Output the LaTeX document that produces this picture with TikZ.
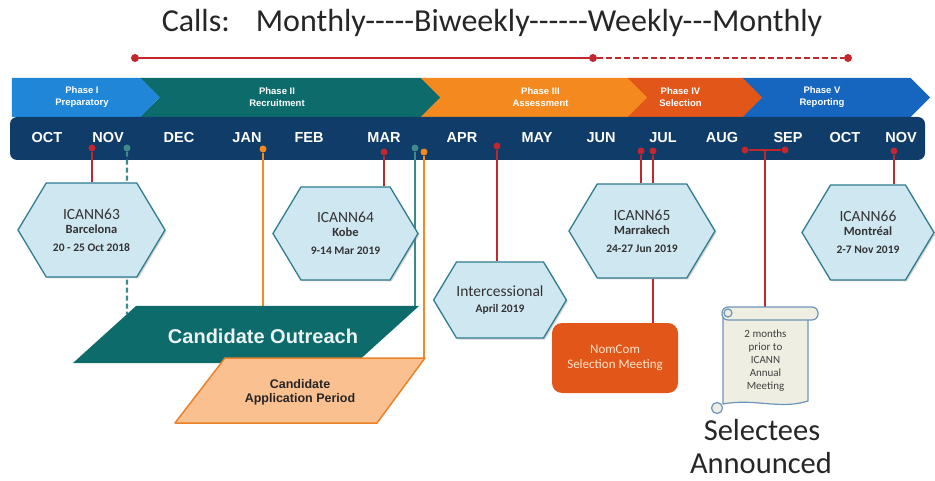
\documentclass[tikz,border=0pt]{standalone}
\usepackage{fontspec}
\usetikzlibrary{shapes.symbols,shadows}
\newfontfamily\calibri{Carlito}
\newfontfamily\arial{Liberation Sans}
\definecolor{navy}{HTML}{0F3C68}
\definecolor{phaseone}{HTML}{1F86D8}
\definecolor{phasefive}{HTML}{1666BF}
\definecolor{nomteal}{HTML}{0E6B6B}
\definecolor{nomorange}{HTML}{F48A1F}
\definecolor{nomburnt}{HTML}{E2561A}
\definecolor{nomred}{HTML}{C1272D}
\definecolor{hexfill}{HTML}{CFE7F1}
\definecolor{hexline}{HTML}{2F7D90}
\definecolor{appfill}{HTML}{FAC08F}
\definecolor{appline}{HTML}{E9822A}
\definecolor{scrollfill}{HTML}{EEEEE2}
\definecolor{scrollline}{HTML}{6C95BA}
\newcommand{\mtg}[3]{{\fontsize{15.5}{17}\selectfont #1}\\[-1pt]{\bfseries #2}\\[3pt]{\bfseries\fontsize{11.5}{13}\selectfont #3}}
\pgfdeclarelayer{bar}
\pgfdeclarelayer{wires}
\pgfsetlayers{bar,wires,main}

\begin{document}
\begin{tikzpicture}[x=1pt,y=-1pt,
    hex/.style={signal, signal to=east and west, signal pointer angle=118,
      draw=hexline, line width=1.3pt, fill=hexfill, inner sep=0pt,
      drop shadow={shadow xshift=1.5pt, shadow yshift=-1.5pt, opacity=.35},
      align=center, text=black!80, font=\calibri\fontsize{12.5}{15}\selectfont},
    phase/.style={signal, signal pointer angle=90, minimum height=39pt, inner sep=0pt},
    phasetxt/.style={text=white, align=center, font=\arial\bfseries\fontsize{9.5}{12}\selectfont},
    month/.style={text=white, font=\arial\bfseries\fontsize{14.5}{16}\selectfont},
    dot/.style={circle, fill=#1, inner sep=0pt, minimum size=7pt},
    wire/.style={draw=#1, line width=2.4pt},
    scrollpen/.style={draw=scrollline, line width=1.2pt, fill=scrollfill},
    bigtxt/.style={font=\calibri\fontsize{30.5}{34}\selectfont, text=black!85, inner sep=0pt, anchor=base},
  ]
  \useasboundingbox (0,0) rectangle (935,481);

  % calls
  \node[font=\calibri\fontsize{32}{36}\selectfont, anchor=base, text=black!85] (calls) at (492,32)
    {Calls:\hspace{26pt}Monthly-----Biweekly------Weekly---Monthly};
  \node[dot=nomred, minimum size=8pt] (C1) at (135,58) {};
  \node[dot=nomred, minimum size=8pt] (C2) at (593,58) {};
  \node[dot=nomred, minimum size=8pt] (C3) at (848,58) {};
  \path (C1) edge[wire=nomred] (C2);
  \path (C2) edge[wire=nomred, dash pattern=on 6pt off 3pt] (C3);

  % phases and months
  \begin{pgfonlayer}{bar}
    \node[phase, signal to=east, signal from=west, fill=phasefive, minimum width=188pt,
      label={[phasetxt, xshift=-14pt]center:{Phase V\\Reporting}}] (PV) at (836,97.5) {};
    \node[phase, signal to=east, signal from=west, fill=nomburnt, minimum width=135pt,
      label={[phasetxt, xshift=-14pt]center:{Phase IV\\Selection}}] (PIV) at (694.5,97.5) {};
    \node[phase, signal to=east, signal from=west, fill=nomorange, minimum width=227pt,
      label={[phasetxt, xshift=7pt]center:{Phase III\\Assessment}}] (PIII) at (533.5,97.5) {};
    \node[phase, signal to=east, signal from=west, fill=nomteal, minimum width=300pt,
      label={[phasetxt, xshift=-13pt]center:{Phase II\\Recruitment}}] (PII) at (290,97.5) {};
    \node[phase, signal to=east, fill=phaseone, minimum width=148pt,
      label={[phasetxt, xshift=6pt]center:{Phase I\\Preparatory}}] (PI) at (76,97.5) {};
    \node[fill=navy, rounded corners=7pt, minimum width=915pt, minimum height=43pt, inner sep=0pt] (bar) at (467.5,138.5) {};
  \end{pgfonlayer}
  \node[month] (OCTa) at (47,138) {OCT};
  \node[month] (NOVa) at (108,138) {NOV};
  \node[month] (DEC) at (179,138) {DEC};
  \node[month] (JAN) at (247,138) {JAN};
  \node[month] (FEB) at (309,138) {FEB};
  \node[month] (MAR) at (384,138) {MAR};
  \node[month] (APR) at (462,138) {APR};
  \node[month] (MAY) at (537,138) {MAY};
  \node[month] (JUN) at (601,138) {JUN};
  \node[month] (JUL) at (663,138) {JUL};
  \node[month] (AUG) at (722,138) {AUG};
  \node[month] (SEP) at (788,138) {SEP};
  \node[month] (OCTb) at (845,138) {OCT};
  \node[month] (NOVb) at (901,138) {NOV};

  % dots on the bar
  \node[dot=nomred] (R63) at (92,148) {};
  \node[dot=nomteal!80!white] (T1) at (127,148) {};
  \node[dot=nomorange] (O1) at (263,149) {};
  \node[dot=nomred] (R64) at (384,152) {};
  \node[dot=nomteal!80!white] (T2) at (415,148) {};
  \node[dot=nomorange] (O2) at (424,152) {};
  \node[dot=nomred] (RIS) at (497,146) {};
  \node[dot=nomred] (R65a) at (641,151) {};
  \node[dot=nomred] (R65b) at (653,151) {};
  \node[dot=nomred] (SA) at (745,150) {};
  \node[dot=nomred] (SB) at (785,150) {};
  \coordinate (SM) at (765,150);
  \node[dot=nomred] (R66) at (894,151) {};

  % meetings
  \node[hex, minimum width=147pt, minimum height=94pt] (I63) at (91.5,230) {\mtg{ICANN63}{Barcelona}{20 - 25 Oct 2018}};
  \node[hex, minimum width=145pt, minimum height=93pt] (I64) at (345.5,233.5) {\mtg{ICANN64}{Kobe}{9-14 Mar 2019}};
  \node[hex, minimum width=110pt, minimum height=76pt] (IS) at (500,300)
    {{\fontsize{15.5}{17}\selectfont Intercessional}\\[1pt]{\bfseries\fontsize{11.5}{13}\selectfont April 2019}};
  \node[hex, minimum width=146pt, minimum height=94pt] (I65) at (642,231) {\mtg{ICANN65}{Marrakech}{24-27 Jun 2019}};
  \node[hex, minimum width=132pt, minimum height=95pt] (I66) at (868,232.5) {\mtg{ICANN66}{Montréal}{2-7 Nov 2019}};

  % candidates
  \coordinate (COtl) at (136,306);
  \coordinate (COtr) at (419,306);
  \coordinate (CObr) at (356,363);
  \coordinate (CObl) at (73,363);
  \fill[nomteal] (COtl) -- (COtr) -- (CObr) -- (CObl) -- cycle;
  \node[text=white!92!nomteal, font=\arial\bfseries\fontsize{20}{24}\selectfont] (CO) at (263,336) {Candidate Outreach};
  \coordinate (CAtl) at (225,358);
  \coordinate (CAtr) at (425,358);
  \coordinate (CAbr) at (377,423);
  \coordinate (CAbl) at (175,423);
  \filldraw[fill=appfill, draw=appline, line width=1.5pt, line join=round] (CAtl) -- (CAtr) -- (CAbr) -- (CAbl) -- cycle;
  \node[align=center, text=black!85, font=\arial\bfseries\fontsize{12.5}{14}\selectfont] (CA) at (300,392) {Candidate\\Application Period};

  % selection
  \node[fill=nomburnt, rounded corners=10pt, minimum width=126pt, minimum height=70pt, align=center,
    text=orange!20!white, font=\calibri\fontsize{13}{15}\selectfont] (NC) at (615,358) {NomCom\\Selection Meeting};
  \draw[scrollpen] (723,316) -- (723,404) .. controls (755,398) and (780,410) .. (808,401) -- (808,316) -- cycle;
  \draw[scrollpen, rounded corners=6pt] (722,307) rectangle (818,320);
  \draw[scrollpen] (728,313) circle (4pt);
  \draw[scrollpen] (717,408) circle (5.5pt);
  \node[align=center, text=black!75, font=\calibri\fontsize{11}{13}\selectfont] (ann) at (765.5,361) {2 months\\prior to\\ICANN\\Annual\\Meeting};
  \node[bigtxt] (selA) at (762,440) {Selectees};
  \node[bigtxt] (selB) at (761,473) {Announced};

  % connectors
  \coordinate (T1end) at (T1 |- CObl);
  \begin{pgfonlayer}{wires}
    \path (R63) edge[wire=nomred] (R63 |- I63.north);
    \path (T1) edge[wire=nomteal!80!white, dash pattern=on 5pt off 3pt] (intersection of T1--T1end and COtl--CObl);
    \path (O1) edge[wire=nomorange, line width=2pt] (O1 |- COtl);
    \path (R64) edge[wire=nomred] (R64 |- I64.north);
    \path (T2) edge[wire=nomteal!80!white] (T2 |- COtl);
    \path (O2) edge[wire=nomorange, line width=2pt] (O2 |- CAtr);
    \path (RIS) edge[wire=nomred] (RIS |- IS.north);
    \path (R65a) edge[wire=nomred] (R65a |- I65.north);
    \path (R65b) edge[wire=nomred] (R65b |- I65.north);
    \path (R65b |- I65.south) edge[wire=nomred] (R65b |- NC.north);
    \path (SA) edge[wire=nomred] (SB);
    \path (SM) edge[wire=nomred] (SM |- 0,307);
    \path (R66) edge[wire=nomred] (R66 |- I66.north);
  \end{pgfonlayer}
\end{tikzpicture}
\end{document}
